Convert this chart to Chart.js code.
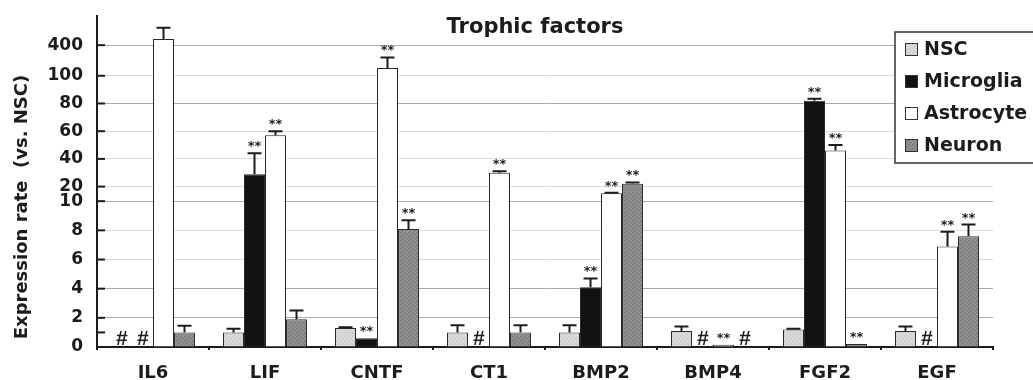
<!DOCTYPE html>
<html>
<head>
<meta charset="utf-8">
<script src="https://cdn.jsdelivr.net/npm/chart.js@4.4.1/dist/chart.umd.min.js"></script>
<style>
  html, body { margin: 0; padding: 0; background: #ffffff; }
  canvas { display: block; }
</style>
</head>
<body>
<canvas id="chart" width="1033" height="380"></canvas>
<script>
// Trophic factor expression, relative to NSC
const categories = ['IL6', 'LIF', 'CNTF', 'CT1', 'BMP2', 'BMP4', 'FGF2', 'EGF'];

const nscValues       = [null, 1.0, 1.3, 1.0, 1.0, 1.1, 1.2, 1.1];
const nscErrors       = [0, 0.25, 0.05, 0.5, 0.5, 0.3, 0.05, 0.3];
const nscMarks        = ['#', '', '', '', '', '', '', ''];

const microgliaValues = [null, 29, 0.6, null, 4.1, null, 82, null];
const microgliaErrors = [0, 15, 0, 0, 0.6, 0, 1.5, 0];
const microgliaMarks  = ['#', '**', '**', '#', '**', '#', '**', '#'];

const astrocyteValues = [460, 57, 177, 30, 15.5, 0.15, 46, 6.9];
const astrocyteErrors = [110, 3, 103, 1, 0.3, 0, 4, 1.0];
const astrocyteMarks  = ['', '**', '**', '**', '**', '**', '**', '**'];

const neuronValues    = [1.0, 1.9, 8.1, 1.0, 22, null, 0.2, 7.6];
const neuronErrors    = [0.45, 0.6, 0.6, 0.5, 1, 0, 0, 0.8];
const neuronMarks     = ['', '', '**', '', '**', '#', '**', '**'];

// Broken y axis: tick values and their labels
const yTickValues = [0, 1, 2, 4, 6, 8, 10, 20, 40, 60, 80, 100, 400];
const yTickLabels = ['0', '', '2', '4', '6', '8', '10', '20', '40', '60', '80', '100', '400'];

// Piecewise-linear segments of the broken axis (value -> axis units)
const realBreaks = [0, 10, 20, 100, 400];
const axisBreaks = [0, 10, 11, 18.6, 20.7];
const axisTopUnits = 22.7;

function toAxis(v) {
  const n = realBreaks.length;
  for (let i = 1; i < n; i++) {
    if (v <= realBreaks[i] || i === n - 1) {
      const r0 = realBreaks[i - 1], r1 = realBreaks[i];
      const a0 = axisBreaks[i - 1], a1 = axisBreaks[i];
      return a0 + (v - r0) * (a1 - a0) / (r1 - r0);
    }
  }
  return v;
}
function fromAxis(a) {
  const n = axisBreaks.length;
  for (let i = 1; i < n; i++) {
    if (a <= axisBreaks[i] || i === n - 1) {
      const r0 = realBreaks[i - 1], r1 = realBreaks[i];
      const a0 = axisBreaks[i - 1], a1 = axisBreaks[i];
      return r0 + (a - a0) * (r1 - r0) / (a1 - a0);
    }
  }
  return a;
}

class BrokenAxisScale extends Chart.LinearScale {
  buildTicks() {
    return yTickValues.map(v => ({ value: v }));
  }
  getPixelForValue(value) {
    if (value === null || value === undefined || isNaN(value)) return NaN;
    const lo = toAxis(this.min), hi = toAxis(this.max);
    return this.getPixelForDecimal((toAxis(value) - lo) / (hi - lo));
  }
  getValueForPixel(pixel) {
    const lo = toAxis(this.min), hi = toAxis(this.max);
    return fromAxis(lo + this.getDecimalForPixel(pixel) * (hi - lo));
  }
}
BrokenAxisScale.id = 'brokenAxis';
BrokenAxisScale.defaults = Chart.LinearScale.defaults;
Chart.register(BrokenAxisScale);

// Stippled fills for the grey bars
function stipple(base, dot) {
  const c = document.createElement('canvas');
  c.width = 4; c.height = 4;
  const g = c.getContext('2d');
  g.fillStyle = base; g.fillRect(0, 0, 4, 4);
  g.fillStyle = dot;
  g.fillRect(0, 0, 1, 1); g.fillRect(2, 2, 1, 1);
  return g.createPattern(c, 'repeat');
}
const ctx = document.getElementById('chart').getContext('2d');
const nscFill = stipple('#d9d9d9', '#bcbcbc');
const neuronFill = stipple('#8e8e8e', '#6c6c6c');

const FONT = 'DejaVu Sans';
const INK = '#1c1c1c';

function gridColorFor(v) {
  if (v === 400 || v === 80 || v === 10 || v === 4 || v === 2) return '#a9a9a9';
  if (v === 0 || v === 1) return 'rgba(0,0,0,0)';
  return '#dcdcdc';
}

// Error bars, significance stars and "not detected" marks
const annotations = {
  id: 'annotations',
  afterDatasetsDraw(chart) {
    const y = chart.scales.y;
    const c = chart.ctx;
    c.save();
    chart.data.datasets.forEach((ds, i) => {
      const meta = chart.getDatasetMeta(i);
      meta.data.forEach((bar, j) => {
        const v = ds.data[j];
        const err = ds.errors[j];
        const mark = ds.marks[j];
        const x = bar.x;
        let topY = null;
        if (v !== null) {
          topY = y.getPixelForValue(v);
          if (err > 0) {
            const capY = y.getPixelForValue(v + err);
            c.strokeStyle = INK;
            c.lineWidth = 2;
            c.beginPath();
            c.moveTo(x, topY);
            c.lineTo(x, capY);
            c.moveTo(x - 7, capY);
            c.lineTo(x + 7, capY);
            c.stroke();
            topY = capY;
          }
        }
        if (mark === '**' && topY !== null) {
          c.fillStyle = INK;
          c.font = 'bold 13px ' + FONT;
          c.textAlign = 'center';
          c.textBaseline = 'alphabetic';
          c.fillText('**', x, topY - 3);
        } else if (mark === '#') {
          c.fillStyle = INK;
          c.font = 'italic bold 21px "Liberation Sans"';
          c.textAlign = 'center';
          c.textBaseline = 'alphabetic';
          c.fillText('#', x, y.getPixelForValue(0) - 2);
        }
      });
    });
    c.restore();
  }
};

// Inward ticks, titles and the boxed legend
const decorations = {
  id: 'decorations',
  afterDraw(chart) {
    const c = chart.ctx;
    const y = chart.scales.y;
    const area = chart.chartArea;
    c.save();
    c.strokeStyle = INK;
    c.lineWidth = 2;
    y.ticks.forEach((t, i) => {
      const py = y.getPixelForTick(i);
      c.beginPath();
      c.moveTo(area.left, py);
      c.lineTo(area.left + 8, py);
      c.stroke();
    });

    c.fillStyle = INK;
    c.font = 'bold 21px ' + FONT;
    c.textAlign = 'center';
    c.textBaseline = 'alphabetic';
    c.fillText('Trophic factors', 535, 33);

    c.save();
    c.translate(22, 207);
    c.rotate(-Math.PI / 2);
    c.font = 'bold 18px ' + FONT;
    c.textAlign = 'center';
    c.textBaseline = 'middle';
    c.fillText('Expression rate  (vs. NSC)', 0, 0);
    c.restore();

    // legend
    const bx = 895, by = 32, bw = 150, bh = 131;
    c.fillStyle = '#ffffff';
    c.fillRect(bx, by, bw, bh);
    c.strokeStyle = '#333333';
    c.lineWidth = 1.5;
    c.strokeRect(bx, by, bw, bh);
    c.font = 'bold 19px ' + FONT;
    c.textAlign = 'left';
    c.textBaseline = 'middle';
    chart.data.datasets.forEach((ds, i) => {
      const cy = 49 + i * 32;
      c.fillStyle = ds.backgroundColor;
      c.fillRect(905, cy - 6, 13, 13);
      c.strokeStyle = '#333333';
      c.lineWidth = 1;
      c.strokeRect(905.5, cy - 5.5, 12, 12);
      c.fillStyle = INK;
      c.fillText(ds.label, 924, cy + 1);
    });
    c.restore();
  }
};

function makeSet(label, values, errors, marks, fill) {
  return {
    label: label,
    data: values,
    errors: errors,
    marks: marks,
    backgroundColor: fill,
    borderColor: '#2a2a2a',
    borderWidth: 1,
    borderSkipped: 'start'
  };
}

new Chart(ctx, {
  type: 'bar',
  data: {
    labels: categories,
    datasets: [
      makeSet('NSC', nscValues, nscErrors, nscMarks, nscFill),
      makeSet('Microglia', microgliaValues, microgliaErrors, microgliaMarks, '#111111'),
      makeSet('Astrocyte', astrocyteValues, astrocyteErrors, astrocyteMarks, '#ffffff'),
      makeSet('Neuron', neuronValues, neuronErrors, neuronMarks, neuronFill)
    ]
  },
  options: {
    responsive: false,
    animation: false,
    events: [],
    layout: { padding: { top: 16, right: 40, left: 0, bottom: 0 } },
    datasets: { bar: { categoryPercentage: 0.75, barPercentage: 1.0 } },
    plugins: {
      legend: { display: false },
      tooltip: { enabled: false },
      title: { display: false }
    },
    scales: {
      x: {
        type: 'category',
        afterFit(scale) { scale.height = 33; scale.paddingLeft = 0; scale.paddingRight = 0; },
        border: { display: true, color: INK, width: 2 },
        grid: { drawOnChartArea: false, drawTicks: true, tickLength: 3, color: INK, lineWidth: 2 },
        ticks: { color: INK, font: { family: FONT, size: 18, weight: 'bold' }, padding: 13, maxRotation: 0, autoSkip: false }
      },
      y: {
        type: 'brokenAxis',
        min: 0,
        max: fromAxis(axisTopUnits),
        afterFit(scale) { scale.width = 97; scale.paddingTop = 0; scale.paddingBottom = 0; },
        border: { display: true, color: INK, width: 2 },
        grid: {
          drawTicks: false,
          color: ctx => gridColorFor(ctx.tick ? ctx.tick.value : 0),
          lineWidth: 1
        },
        ticks: {
          autoSkip: false,
          padding: 14,
          color: INK,
          font: { family: FONT, size: 17, weight: 'bold' },
          callback: (value, index) => yTickLabels[index]
        }
      }
    }
  },
  plugins: [annotations, decorations]
});
</script>
</body>
</html>
